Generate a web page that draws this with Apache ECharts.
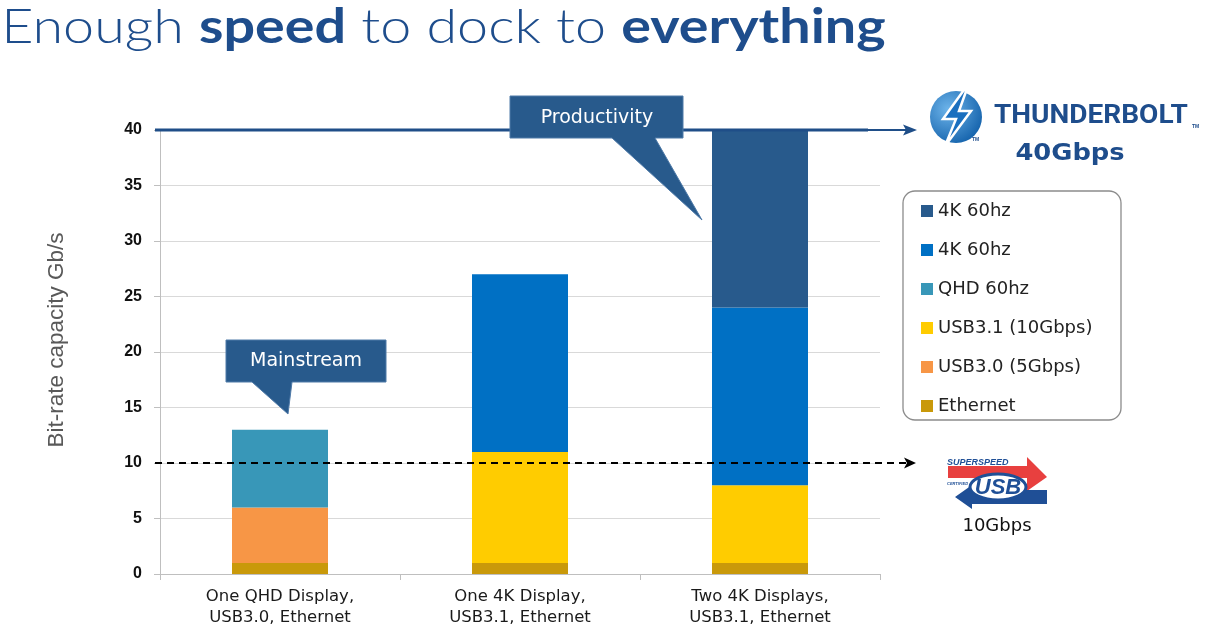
<!DOCTYPE html>
<html>
<head>
<meta charset="utf-8">
<script src="https://cdn.jsdelivr.net/npm/echarts@6/dist/echarts.min.js"></script>
<style>
html,body{margin:0;padding:0;background:#fff;}
#c{width:1207px;height:632px;}
</style>
</head>
<body>
<div id="c"></div>
<script>
const categories = ['One QHD Display,\nUSB3.0, Ethernet', 'One 4K Display,\nUSB3.1, Ethernet', 'Two 4K Displays,\nUSB3.1, Ethernet'];
const ethernet = [1, 1, 1];
const usb30 = [5, null, null];
const usb31 = [null, 10, 7];
const qhd = [7, null, null];
const k4a = [null, 16, 16];
const k4b = [null, null, 16];
const yTicks = [0, 5, 10, 15, 20, 25, 30, 35, 40];
const thunderboltLimit = 40;
const usbLimit = 10;

const FONT = 'Lato';
const BODY = 'DejaVu Sans';
const chart = echarts.init(document.getElementById('c'), null, {renderer: 'canvas'});

function bar(name, data, color) {
  return {
    name: name, type: 'bar', stack: 'total', data: data, barWidth: '40%',
    itemStyle: {color: color}, emphasis: {disabled: true}, silent: true
  };
}

chart.setOption({
  animation: false,
  backgroundColor: '#fff',
  grid: {left: 160, right: 327, top: 130, bottom: 58},
  legend: {
    orient: 'vertical', left: 916, top: 197,
    itemWidth: 12, itemHeight: 12, itemGap: 21,
    icon: 'rect',
    data: ['4K 60hz #2', '4K 60hz #1', 'QHD 60hz', 'USB3.1 (10Gbps)', 'USB3.0 (5Gbps)', 'Ethernet'],
    formatter: n => n.replace(/ #\d$/, ''),
    textStyle: {fontFamily: BODY, fontSize: 18, color: '#222', lineHeight: 18},
    selectedMode: false
  },
  xAxis: {
    type: 'category', data: categories,
    axisLine: {lineStyle: {color: '#bfbfbf', width: 1}},
    axisTick: {show: true, alignWithLabel: false, length: 6, lineStyle: {color: '#bfbfbf'}},
    axisLabel: {fontFamily: BODY, fontSize: 16.5, color: '#1a1a1a', lineHeight: 21, margin: 12}
  },
  yAxis: {
    type: 'value', min: 0, max: 40, interval: 5,
    name: 'Bit-rate capacity Gb/s', nameLocation: 'middle', nameGap: 92,
    nameTextStyle: {fontFamily: 'Liberation Sans', fontSize: 22.5, color: '#595959', padding: [0, 0, 0, 24]},
    axisLine: {show: true, lineStyle: {color: '#bfbfbf'}},
    axisTick: {show: true, length: 6, lineStyle: {color: '#bfbfbf'}},
    axisLabel: {fontFamily: 'Liberation Sans', fontSize: 16, fontWeight: 'bold', color: '#111', margin: 18,
      formatter: v => (yTicks.indexOf(v) >= 0 ? String(v) : '')},
    splitLine: {lineStyle: {color: '#d9d9d9', width: 1}}
  },
  series: [
    bar('Ethernet', ethernet, '#c9990a'),
    bar('USB3.0 (5Gbps)', usb30, '#f79646'),
    bar('USB3.1 (10Gbps)', usb31, '#ffcc00'),
    bar('QHD 60hz', qhd, '#3897b8'),
    bar('4K 60hz #1', k4a, '#0070c4'),
    bar('4K 60hz #2', k4b, '#285a8c')
  ]
});

const y40 = chart.convertToPixel({yAxisIndex: 0}, thunderboltLimit);
const y10 = chart.convertToPixel({yAxisIndex: 0}, usbLimit);
const DARK = '#285a8c';
const NAVY = '#1e4d8c';

const graphics = [
  // Title
  {type: 'text', z: 30, x: 0, y: 4, scaleX: 1.16, originX: 0, originY: 0,
    style: {x: 1, y: 0, text: '{a|Enough }{b|speed}{a| to dock to }{b|everything}',
      rich: {
        a: {fontFamily: FONT, fontSize: 48, fontWeight: 300, fill: NAVY},
        b: {fontFamily: FONT, fontSize: 48, fontWeight: 'bold', fill: NAVY}
      }, textVerticalAlign: 'top'}},
  // 40 Gbps line
  {type: 'line', z: 10, shape: {x1: 155, y1: y40, x2: 868, y2: y40}, style: {stroke: '#1f4e88', lineWidth: 3}},
  {type: 'line', z: 10, shape: {x1: 868, y1: y40, x2: 910, y2: y40}, style: {stroke: '#1f4e88', lineWidth: 2}},
  {type: 'polygon', z: 10, shape: {points: [[903, y40 - 5.5], [917, y40], [903, y40 + 5.5], [906, y40]]}, style: {fill: '#1f4e88'}},
  // 10 Gbps dashed line
  {type: 'line', z: 10, shape: {x1: 155, y1: y10, x2: 908, y2: y10}, style: {stroke: '#000', lineWidth: 2, lineDash: [7, 5]}},
  {type: 'polygon', z: 10, shape: {points: [[904, y10 - 5.5], [916, y10], [904, y10 + 5.5], [907, y10]]}, style: {fill: '#000'}},
  // Callout Mainstream
  {type: 'polygon', z: 20, shape: {points: [[226, 340], [386, 340], [386, 382], [292, 382], [288, 414], [252, 382], [226, 382]]},
    style: {fill: DARK, stroke: '#4f7aa8', lineWidth: 1}},
  {type: 'text', z: 21, style: {x: 306, y: 361, text: 'Mainstream', fill: '#fff', font: '19px ' + BODY, textAlign: 'center', textVerticalAlign: 'middle'}},
  // Callout Productivity
  {type: 'polygon', z: 20, shape: {points: [[510, 96], [683, 96], [683, 138], [655, 138], [702, 220], [612, 138], [510, 138]]},
    style: {fill: DARK, stroke: '#4f7aa8', lineWidth: 1}},
  {type: 'text', z: 21, style: {x: 597, y: 118, text: 'Productivity', fill: '#fff', font: '19px ' + BODY, textAlign: 'center', textVerticalAlign: 'middle'}},
  // Legend frame
  {type: 'rect', z: 1, shape: {x: 903, y: 191, width: 218, height: 229, r: 12}, style: {fill: 'none', stroke: '#8c8c8c', lineWidth: 1.3}},
  // Thunderbolt logo
  {type: 'circle', z: 5, shape: {cx: 956, cy: 117, r: 26},
    style: {fill: new echarts.graphic.RadialGradient(0.35, 0.35, 0.8, [{offset: 0, color: '#6db4ea'}, {offset: 1, color: '#0b5aa5'}])}},
  {type: 'polygon', z: 6, shape: {points: [[969, 83], [943, 119], [956, 119], [945, 146], [971, 111], [959, 111], [969, 83]]},
    style: {fill: '#1a6fbf', stroke: '#fff', lineWidth: 2.5}},
  {type: 'text', z: 6, style: {x: 972, y: 137, text: 'TM', fill: NAVY, font: 'bold 5px Liberation Sans'}},
  {type: 'text', z: 6, x: 994, y: 117, scaleX: 1.12, originX: 0, originY: 0,
    style: {x: 0, y: 0, text: 'THUNDERBOLT', fill: NAVY, font: 'bold 25px Roboto', textVerticalAlign: 'middle'}},
  {type: 'text', z: 6, style: {x: 1192, y: 124, text: 'TM', fill: NAVY, font: 'bold 5px Liberation Sans'}},
  {type: 'text', z: 6, x: 1070, y: 154, scaleX: 1.12, originX: 0, originY: 0,
    style: {x: 0, y: 0, text: '40Gbps', fill: NAVY, font: 'bold 23px ' + BODY, textAlign: 'center', textVerticalAlign: 'middle'}},
  // USB logo
  {type: 'polygon', z: 5, shape: {points: [[948, 466], [1027, 466], [1027, 457], [1047, 477], [1027, 491], [1027, 478], [948, 478]]}, style: {fill: '#e8403f'}},
  {type: 'polygon', z: 5, shape: {points: [[1047, 490], [1047, 504], [972, 504], [972, 509], [955, 497], [972, 485], [972, 490]]}, style: {fill: '#1f4f96'}},
  {type: 'ellipse', z: 6, shape: {cx: 998, cy: 487, rx: 28, ry: 13}, style: {fill: '#fff', stroke: '#1f4f96', lineWidth: 3}},
  {type: 'text', z: 7, style: {x: 998, y: 488, text: 'USB', fill: '#1f4f96', font: 'italic bold 22px Liberation Sans', textAlign: 'center', textVerticalAlign: 'middle'}},
  {type: 'text', z: 7, style: {x: 947, y: 463, text: 'SUPERSPEED', fill: '#1f4f96', font: 'italic bold 9px Liberation Sans', textVerticalAlign: 'middle'}},
  {type: 'text', z: 7, style: {x: 947, y: 484, text: 'CERTIFIED', fill: '#1f4f96', font: 'italic bold 4px Liberation Sans', textVerticalAlign: 'middle'}},
  {type: 'text', z: 7, style: {x: 997, y: 526, text: '10Gbps', fill: '#111', font: '18px ' + BODY, textAlign: 'center', textVerticalAlign: 'middle'}}
];
chart.setOption({graphic: graphics});
</script>
</body>
</html>
